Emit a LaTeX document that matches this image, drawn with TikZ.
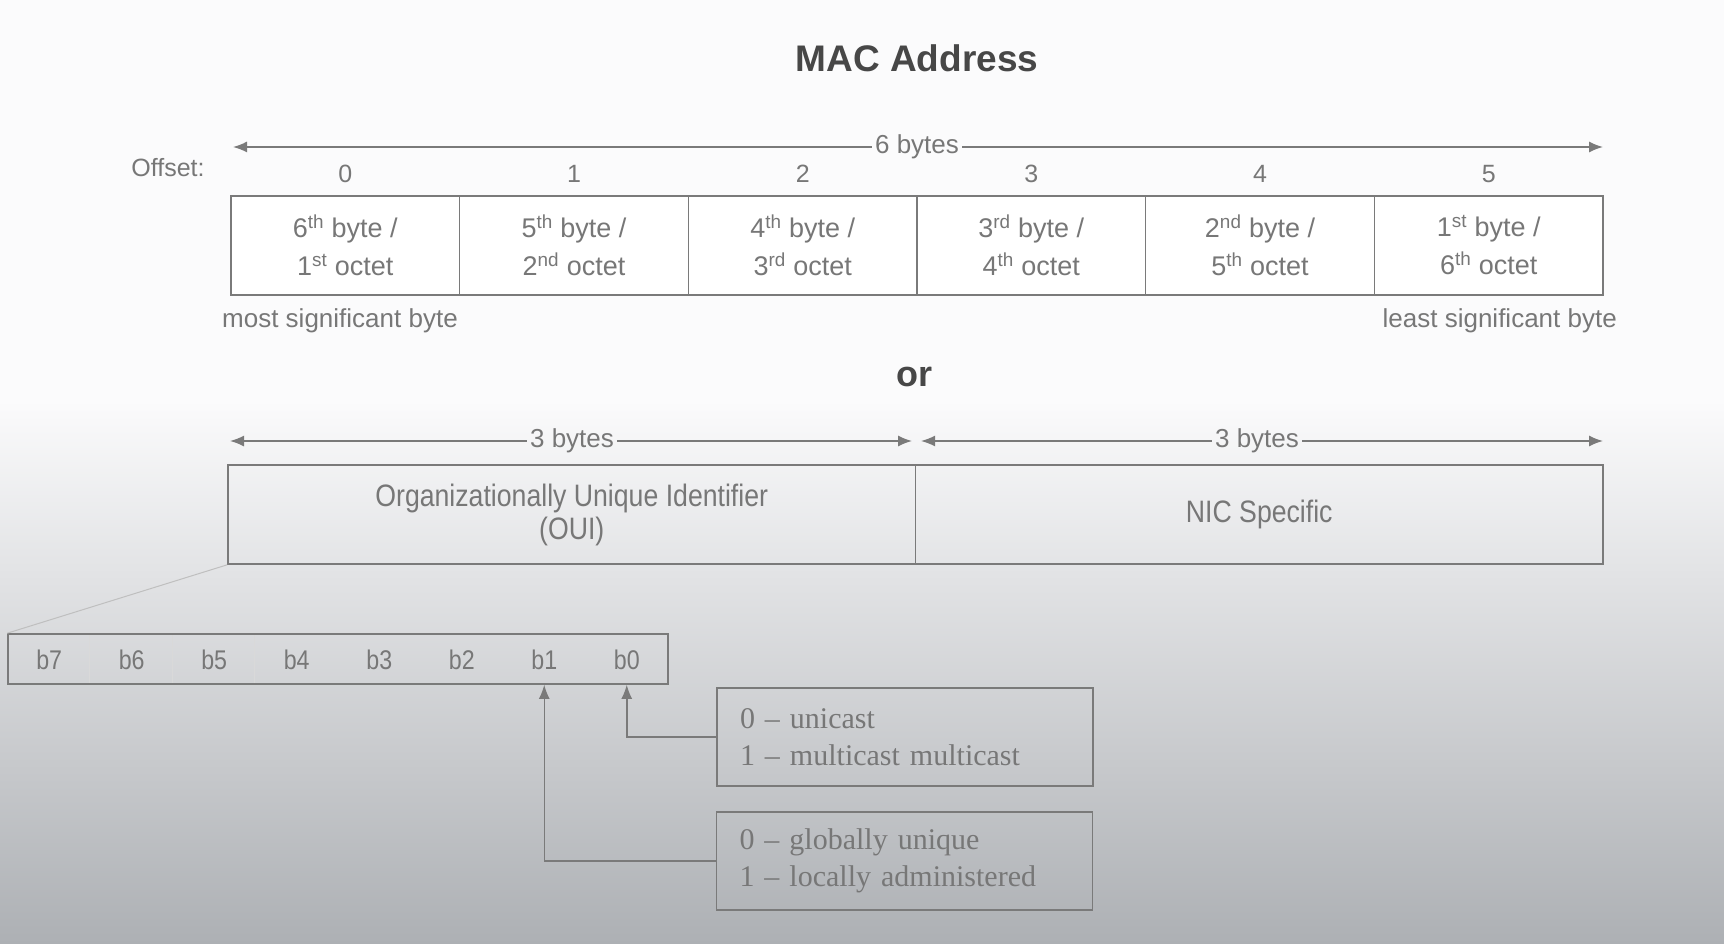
\documentclass[tikz,border=0pt]{standalone}
\usepackage{fontspec}
\setmainfont{Liberation Sans}
\newfontfamily\narrowsans[FakeStretch=0.86]{Liberation Sans}
\newfontfamily\boxserif[Ligatures=TeX]{Liberation Serif}
\usetikzlibrary{arrows.meta,calc}
\definecolor{txt}{HTML}{777777}
\definecolor{ln}{HTML}{7A7A7A}
\definecolor{ttl}{HTML}{474747}
\definecolor{bgtop}{HTML}{FBFBFC}
\definecolor{bgmid}{HTML}{E2E3E5}
\definecolor{bgbot}{HTML}{ADB0B4}
\tikzset{
  cell/.style={draw=ln, line width=1.6pt, fill=white, minimum width=228.67pt, minimum height=99pt, inner sep=0pt, align=center, text=txt, font=\fontsize{27}{38}\selectfont},
  lbl/.style={text=txt, inner sep=3pt, font=\fontsize{26}{30}\selectfont},
  half/.style={draw=ln, line width=1.6pt, minimum width=687.5pt, minimum height=99pt, inner sep=0pt, align=center, text=txt, font=\narrowsans\fontsize{31}{33}\selectfont},
  bitlbl/.style={text=txt, inner sep=0pt, font=\narrowsans\fontsize{27}{30}\selectfont},
  infobox/.style={draw=ln, line width=1.6pt, minimum width=376pt, minimum height=98pt, inner xsep=23pt, inner ysep=0pt, text width=330pt, align=left, text=txt, font=\boxserif\fontsize{30}{37}\selectfont},
  arr/.style={draw=ln, line width=1.5pt, -{Latex[length=14pt,width=11pt]}}
}
\begin{document}
\begin{tikzpicture}[x=1pt,y=-1pt]
\useasboundingbox (0,0) rectangle (1724,944);
\fill[bgtop] (0,0) rectangle (1724,401);
\shade[top color=bgtop, middle color=bgmid, bottom color=bgbot] (0,400) rectangle (1724,944);

% title
\node[text=ttl, font=\bfseries\fontsize{37}{40}\selectfont] (title) at (917,58) {MAC Address};

% 6 bytes arrow
\node[lbl] (six) at (917,147) {6 bytes};
\coordinate (sixL) at (233,147);
\coordinate (sixR) at (1603,147);
\draw[arr] (six.west) -- (sixL);
\draw[arr] (six.east) -- (sixR);

% offsets
\node[lbl, font=\fontsize{25}{30}\selectfont] (offset) at (168,168) {Offset:};
\node[lbl, font=\fontsize{25}{30}\selectfont] (o0) at (345.3,174) {0};
\node[lbl, font=\fontsize{25}{30}\selectfont] (o1) at (574.0,174) {1};
\node[lbl, font=\fontsize{25}{30}\selectfont] (o2) at (802.7,174) {2};
\node[lbl, font=\fontsize{25}{30}\selectfont] (o3) at (1031.3,174) {3};
\node[lbl, font=\fontsize{25}{30}\selectfont] (o4) at (1260.0,174) {4};
\node[lbl, font=\fontsize{25}{30}\selectfont] (o5) at (1488.7,174) {5};

% byte cells
\node[cell] (c0) at (345.3,245.5) {6\textsuperscript{th} byte /\\1\textsuperscript{st} octet};
\node[cell] (c1) at (574.0,245.5) {5\textsuperscript{th} byte /\\2\textsuperscript{nd} octet};
\node[cell] (c2) at (802.7,245.5) {4\textsuperscript{th} byte /\\3\textsuperscript{rd} octet};
\node[cell] (c3) at (1031.3,245.5) {3\textsuperscript{rd} byte /\\4\textsuperscript{th} octet};
\node[cell] (c4) at (1260.0,245.5) {2\textsuperscript{nd} byte /\\5\textsuperscript{th} octet};
\node[cell] (c5) at (1488.7,245.5) {1\textsuperscript{st} byte /\\6\textsuperscript{th} octet};

\node[lbl, anchor=west, inner sep=0pt] (msb) at (222,321) {most significant byte};
\node[lbl, anchor=east, inner sep=0pt] (lsb) at (1617,321) {least significant byte};

% or
\node[text=ttl, font=\bfseries\fontsize{36}{40}\selectfont] (or) at (914,377) {or};

% 3 bytes arrows
\node[lbl] (threeL) at (572,441) {3 bytes};
\node[lbl] (threeR) at (1257,441) {3 bytes};
\coordinate (tL1) at (230,441);
\coordinate (tL2) at (912,441);
\coordinate (tR1) at (921,441);
\coordinate (tR2) at (1603,441);
\draw[arr] (threeL.west) -- (tL1);
\draw[arr] (threeL.east) -- (tL2);
\draw[arr] (threeR.west) -- (tR1);
\draw[arr] (threeR.east) -- (tR2);

% OUI / NIC
\node[half] (oui) at (571.75,514.5) {Organizationally Unique Identifier\\(OUI)};
\node[half] (nic) at (1259.25,514.5) {NIC Specific};

% bit field
\node[draw=ln, line width=1.6pt, minimum width=660pt, minimum height=50pt, inner sep=0pt] (bits) at (338,659) {};
\draw[gray!50, line width=1pt] (oui.south west) -- (bits.north west);
\foreach \i in {1,2,3}{
  \draw[gray!30, line width=1pt] ($(bits.north west)+(82.5*\i,2)$) -- ($(bits.south west)+(82.5*\i,-2)$);
}
\node[bitlbl] (b7) at (49.25,660) {b7};
\node[bitlbl] (b6) at (131.75,660) {b6};
\node[bitlbl] (b5) at (214.25,660) {b5};
\node[bitlbl] (b4) at (296.75,660) {b4};
\node[bitlbl] (b3) at (379.25,660) {b3};
\node[bitlbl] (b2) at (461.75,660) {b2};
\node[bitlbl] (b1) at (544.25,660) {b1};
\node[bitlbl] (b0) at (626.75,660) {b0};

% info boxes
\node[infobox] (cast) at (905,737) {0 – unicast\\1 – multicast multicast};
\node[infobox] (admin) at (904.5,861) {0 – globally unique\\1 – locally administered};

\draw[arr] (cast.west) -| (b0 |- bits.south);
\draw[arr] (admin.west) -| (b1 |- bits.south);
\end{tikzpicture}
\end{document}
